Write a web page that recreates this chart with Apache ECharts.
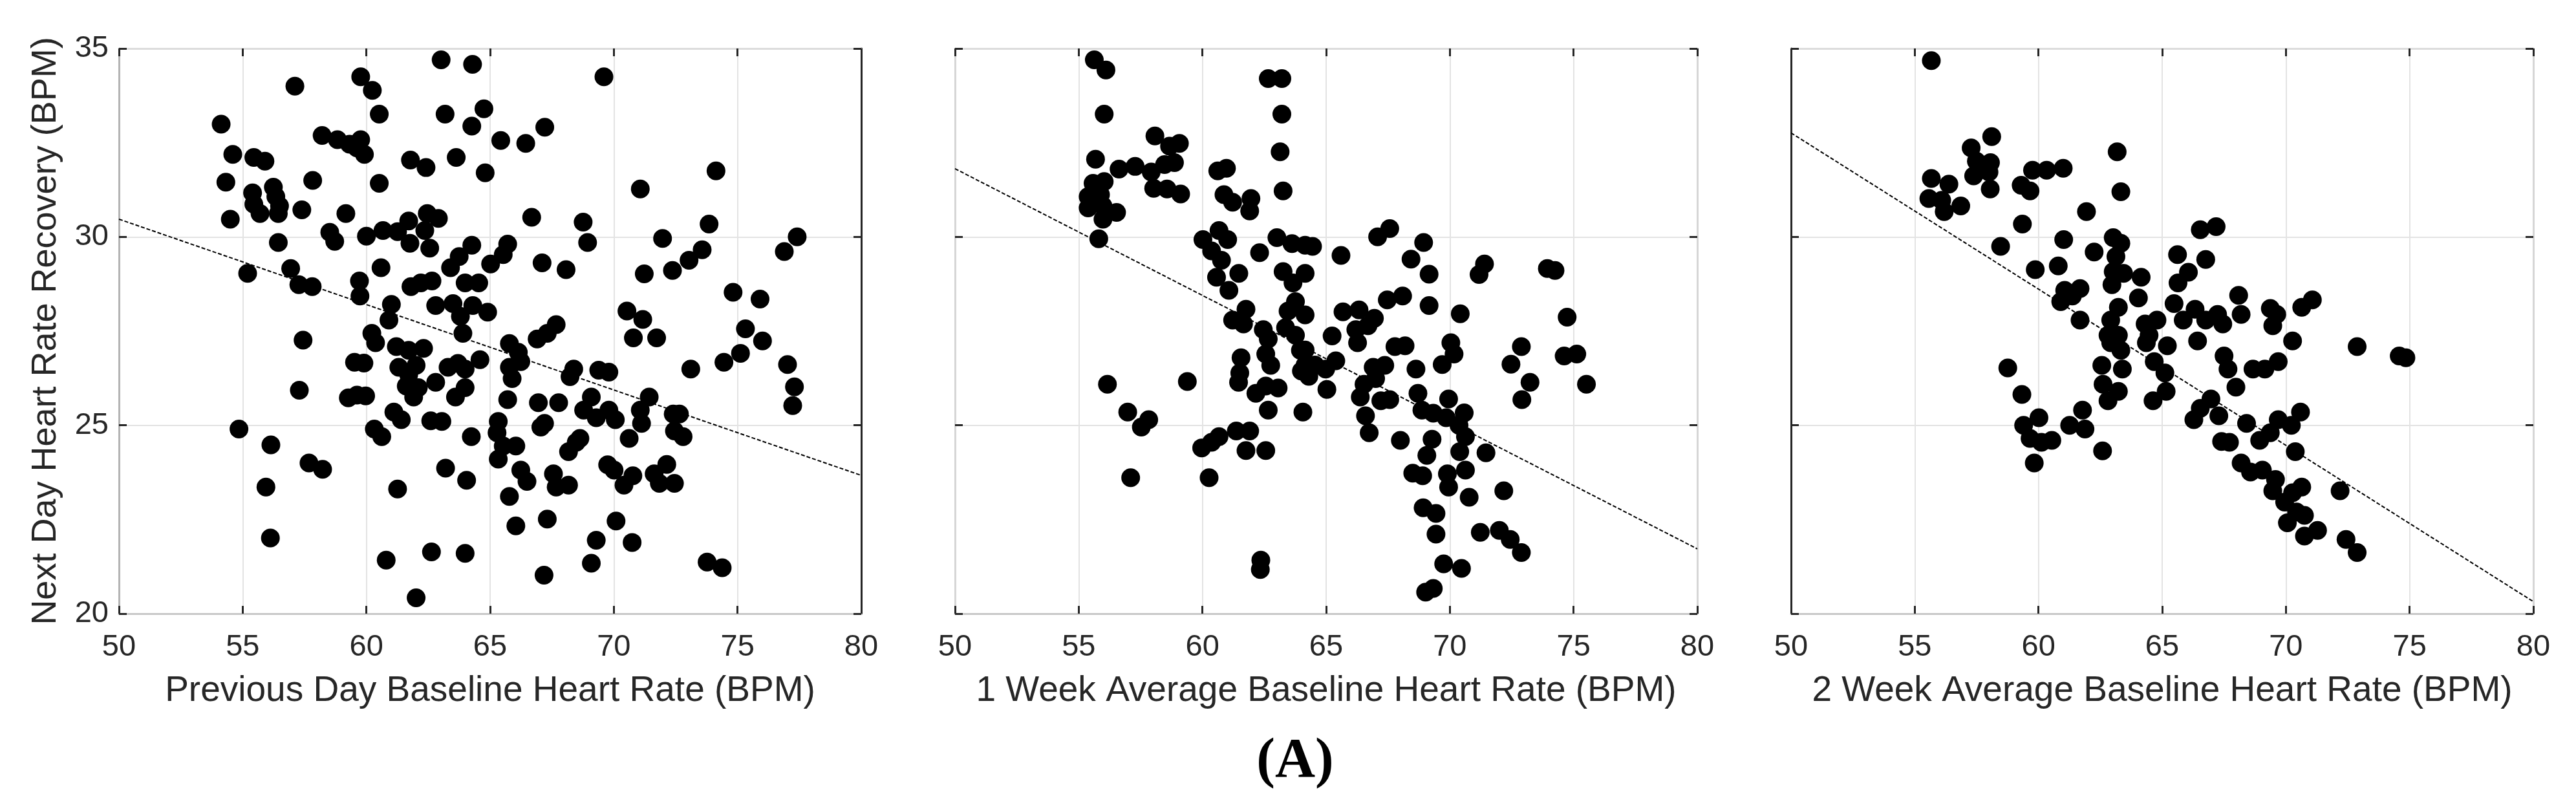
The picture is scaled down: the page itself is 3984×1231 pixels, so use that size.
<!DOCTYPE html>
<html>
<head>
<meta charset="utf-8">
<script src="https://cdn.jsdelivr.net/npm/echarts@6/dist/echarts.min.js"></script>
<style>
html,body{margin:0;padding:0;background:#fff;}
#chart{width:3984px;height:1231px;}
</style>
</head>
<body>
<div id="chart"></div>
<script>
// ---------- data ----------
const prevDayPoints = [
[57.11,34.0],[59.77,34.25],[60.24,33.89],[60.52,33.26],[63.02,34.7],[64.29,34.58],[64.75,33.4],[63.18,33.26],[64.26,32.94],[54.13,32.99],
[58.21,32.69],[58.83,32.58],[59.32,32.46],[59.77,32.58],[59.92,32.19],[59.62,32.36],[54.6,32.19],[55.45,32.11],[55.9,32.01],[61.78,32.04],
[62.41,31.84],[63.63,32.11],[64.8,31.7],[54.32,31.45],[57.83,31.5],[60.52,31.42],[55.4,31.17],[55.45,30.87],[55.7,30.62],[56.24,31.32],
[56.34,31.07],[56.49,30.82],[56.44,30.62],[54.5,30.47],[57.39,30.72],[59.17,30.62],[58.52,30.12],[58.72,29.88],[56.44,29.85],[60.0,30.02],
[60.67,30.17],[61.26,30.14],[61.71,30.42],[61.76,29.83],[62.46,30.62],[62.91,30.49],[62.36,30.17],[62.56,29.7],[64.26,29.78],
[55.2,29.03],[56.94,29.16],[57.27,28.73],[57.81,28.68],[59.72,28.83],[59.74,28.43],[60.59,29.18],[61.8,28.68],[62.2,28.78],[62.65,28.83],
[63.4,29.18],[63.75,29.48],[63.99,28.78],[64.54,28.78],
[61.01,28.21],[60.91,27.79],[60.22,27.44],[60.37,27.19],[62.8,28.18],[63.5,28.23],[64.3,28.18],[63.8,27.89],[63.9,27.44],[57.44,27.26],
[61.21,27.09],[61.71,26.99],[62.31,27.04],[59.52,26.67],[59.9,26.65],[61.31,26.54],[61.71,26.34],[62.01,26.59],[62.8,26.14],[63.3,26.54],
[63.7,26.64],[63.99,26.49],[64.59,26.74],
[57.29,25.93],[59.27,25.73],[59.62,25.8],[59.97,25.78],[61.61,26.04],[61.91,25.75],[62.1,26.0],[63.6,25.75],[63.99,26.0],[61.11,25.35],
[61.41,25.15],[62.6,25.12],[63.05,25.1],[54.85,24.9],[60.32,24.9],[60.62,24.7],[64.24,24.7],[56.14,24.48],
[57.68,24.0],[58.23,23.83],[55.94,23.36],[61.26,23.31],[63.2,23.86],[64.05,23.54],[56.12,22.01],[60.8,21.42],[62.63,21.64],[63.99,21.6],[62.01,20.42],
[65.43,32.56],[66.44,32.48],[67.21,32.91],[69.6,34.25],[74.13,31.75],[71.07,31.27],[66.68,30.52],[68.76,30.39],[68.94,29.85],[73.85,30.34],
[71.97,29.96],[77.41,30.0],[76.89,29.61],[73.57,29.66],[73.04,29.38],[72.37,29.11],[71.23,29.02],[65.71,29.81],[65.53,29.53],[65.02,29.28],
[67.1,29.31],[68.07,29.13],[74.82,28.53],[75.91,28.35],[64.9,28.0],[70.53,28.03],[71.17,27.81],[70.79,27.32],[71.73,27.32],[75.32,27.56],
[76.01,27.24],[75.12,26.91],[74.45,26.67],[77.02,26.61],[77.3,26.02],[77.23,25.52],[67.67,27.67],[67.31,27.44],[66.9,27.29],[65.78,27.17],
[66.14,26.94],[65.78,26.54],[65.89,26.24],[66.24,26.69],[68.38,26.49],[68.23,26.29],[69.39,26.46],[69.8,26.41],[73.11,26.49],[65.71,25.68],
[66.95,25.6],[67.77,25.6],[69.09,25.75],[68.78,25.4],[69.29,25.2],[69.8,25.4],[70.06,25.15],[71.43,25.75],[71.07,25.4],[71.12,25.05],
[72.4,25.3],[72.65,25.3],[72.45,24.85],[72.8,24.7],[65.33,25.1],[65.28,24.8],[67.05,24.95],[67.2,25.05],[70.62,24.65],[68.48,24.55],
[68.63,24.65],[68.17,24.3],[66.04,24.45],[65.53,24.45],[65.33,24.1],[66.24,23.81],[66.49,23.51],[67.56,23.71],[67.67,23.36],[68.17,23.41],
[69.75,23.95],[70.01,23.81],[70.41,23.41],[70.77,23.66],[71.63,23.71],[71.84,23.46],[72.14,23.96],[72.45,23.46],[65.78,23.11],[67.31,22.51],
[66.04,22.33],[70.09,22.46],[69.29,21.95],[70.74,21.89],[69.09,21.34],[67.18,21.02],[73.77,21.37],[74.38,21.22]
];

const week1Points = [
[55.63,34.7],[56.1,34.43],[56.03,33.26],[58.08,32.68],[59.07,32.48],[58.67,32.41],[55.68,32.06],[56.63,31.8],[57.28,31.87],[57.93,31.72],
[58.47,31.92],[58.87,31.97],[58.03,31.29],[58.57,31.27],[59.12,31.14],[55.58,31.42],[56.03,31.47],[55.38,31.07],[55.88,31.12],[55.38,30.77],
[55.98,30.82],[56.53,30.65],[55.98,30.47],[55.81,29.95],[60.62,31.75],[60.97,31.82],[60.87,31.12],[61.22,30.92],[61.96,31.02],[61.91,30.69],
[63.21,34.2],[62.66,34.2],[63.21,33.26],[63.14,32.26],[63.26,31.22],[60.02,29.93],[60.67,30.17],[61.02,29.93],[60.37,29.63],[60.77,29.38],
[61.47,29.03],[60.57,28.93],[61.07,28.58],[62.31,29.58],[63.01,29.98],[63.62,29.82],[63.26,29.08],[63.66,28.78],[63.76,28.28],[63.46,28.03],
[61.76,28.08],[61.22,27.79],[61.66,27.69],[62.46,27.54],[62.66,27.29],[63.36,27.59],[63.76,27.39],[62.56,26.89],[62.76,26.59],[61.56,26.79],
[61.51,26.39],[61.46,26.14],[63.96,26.99],[64.0,26.44],[62.16,25.85],[62.56,26.04],[63.06,25.99],[62.66,25.4],[64.06,25.35],[56.16,26.09],
[59.39,26.16],[56.98,25.35],[57.83,25.15],[57.53,24.95],[59.97,24.4],[60.37,24.55],[60.67,24.7],[61.37,24.85],[61.91,24.85],[61.76,24.33],
[62.56,24.33],[57.1,23.61],[60.27,23.61],[62.36,21.42],[62.34,21.17],
[64.15,29.78],[64.45,29.75],[64.15,29.03],[64.15,27.93],[64.15,27.0],[64.15,26.6],[64.3,26.3],
[65.6,29.51],[67.08,30.0],[67.57,30.22],[68.94,29.85],[68.43,29.41],[69.16,29.01],[71.4,29.28],[71.18,29.0],[73.94,29.16],[74.25,29.11],
[74.74,27.87],[65.68,28.01],[66.33,28.06],[66.95,27.84],[66.69,27.64],[66.2,27.54],[66.27,27.19],[67.47,28.33],[68.09,28.43],[69.16,28.18],
[70.42,27.96],[65.24,27.37],[67.78,27.09],[68.19,27.11],[70.04,27.19],[70.17,26.89],[69.69,26.61],[65.39,26.71],[64.98,26.49],[64.55,26.6],
[66.9,26.54],[67.37,26.59],[67.0,26.24],[66.53,26.09],[68.63,26.49],[72.47,26.62],[72.89,27.09],[74.62,26.84],[75.13,26.89],[73.24,26.14],
[75.52,26.09],[72.91,25.68],[65.03,25.95],[66.38,25.75],[67.21,25.65],[67.57,25.68],[68.71,25.85],[68.87,25.4],[69.95,25.7],[69.33,25.32],
[69.85,25.2],[70.58,25.33],[70.37,25.0],[70.63,24.7],[66.59,25.25],[66.74,24.8],[68.0,24.6],[69.28,24.63],[69.07,24.2],[70.4,24.3],
[71.46,24.27],[68.5,23.73],[68.9,23.66],[69.9,23.71],[69.95,23.36],[70.63,23.81],[70.78,23.09],[72.18,23.26],[68.92,22.81],[69.44,22.66],
[69.44,22.11],[71.23,22.16],[72.0,22.21],[72.44,21.97],[72.89,21.62],[69.75,21.32],[70.47,21.2],[69.02,20.57],[69.33,20.67]
];

const week2Points = [
[55.67,34.68],[58.11,32.66],[57.28,32.36],[63.18,32.26],[57.49,32.01],[58.06,31.97],[57.38,31.62],[58.0,31.72],[58.05,31.27],[55.67,31.55],
[56.38,31.4],[55.57,31.02],[56.09,30.97],[56.19,30.67],[56.86,30.82],[59.76,31.77],[60.33,31.77],[61.0,31.82],[59.3,31.37],[59.66,31.22],
[63.33,31.2],[61.94,30.67],[59.35,30.34],[61.02,29.93],[58.47,29.75],[62.25,29.6],[63.02,29.98],[63.33,29.83],[59.87,29.13],[60.8,29.23],
[63.13,29.48],[63.02,29.08],[63.44,29.03],[62.97,28.73],[61.06,28.58],[61.68,28.63],[60.9,28.28],[61.37,28.43],[61.68,27.79],[63.23,28.13],
[62.92,27.79],[62.81,27.39],[63.23,27.39],[62.92,27.19],[63.33,26.99],[62.56,26.59],[63.39,26.49],[62.61,26.09],[63.23,25.9],[62.81,25.65],
[58.76,26.52],[59.33,25.82],[59.4,25.0],[60.02,25.2],[59.66,24.65],[60.12,24.55],[60.54,24.6],[59.83,24.0],[61.26,25.0],[61.78,25.4],
[61.88,24.9],[62.59,24.32],
[66.54,30.19],[67.18,30.27],[65.62,29.53],[66.76,29.4],[66.06,29.06],[65.64,28.78],[64.15,28.93],[64.04,28.38],[65.48,28.23],[66.33,28.08],
[65.85,27.79],[66.43,27.24],[66.76,27.79],[67.24,27.94],[67.45,27.69],[68.09,28.45],[68.19,27.94],[69.37,28.1],[69.63,27.94],[69.47,27.64],
[70.64,28.13],[71.07,28.33],[70.27,27.24],[72.88,27.09],[74.58,26.84],[74.85,26.79],[64.31,27.69],[64.47,27.39],[64.36,27.19],[64.79,27.79],
[65.21,27.11],[64.68,26.69],[65.11,26.39],[67.5,26.84],[67.66,26.49],[67.98,26.01],[68.67,26.49],[69.15,26.49],[69.69,26.69],[65.16,25.9],
[64.63,25.65],[66.97,25.7],[66.54,25.45],[66.28,25.15],[67.29,25.25],[68.41,25.05],[69.69,25.15],[70.22,25.0],[70.59,25.35],[69.37,24.8],
[68.94,24.6],[67.4,24.57],[67.72,24.55],[70.38,24.3],[68.19,24.0],[68.57,23.76],[69.05,23.81],[69.58,23.56],[69.47,23.26],[69.95,22.96],
[70.64,23.36],[70.27,23.21],[72.19,23.26],[70.75,22.61],[70.06,22.41],[70.75,22.06],[71.28,22.21],[72.43,21.97],[72.88,21.62],[70.43,22.7]
];

const fitPrevDay = [[50, 30.47], [80, 23.67]];
const fitWeek1   = [[50, 31.81], [80, 21.72]];
const fitWeek2   = [[50, 32.76], [80, 20.32]];

const xTitles = [
  'Previous Day Baseline Heart Rate (BPM)',
  '1 Week Average Baseline Heart Rate (BPM)',
  '2 Week Average Baseline Heart Rate (BPM)'
];
const yTitle = 'Next Day Heart Rate Recovery (BPM)';
const panelLabel = '(A)';
const xRange = {min: 50, max: 80, interval: 5};
const yRange = {min: 20, max: 35, interval: 5};

// ---------- chart ----------
const panels = [prevDayPoints, week1Points, week2Points];
const fits = [fitPrevDay, fitWeek1, fitWeek2];
const gridLeft = [184, 1477, 2770];
const gridW = 1148;
const TXT = '#262626';
const FONT = 'Liberation Sans';
const leftAxisColor = ['#b4b4b4', '#d6d6d6', '#262626'];
const rightAxisColor = ['#262626', '#d6d6d6', '#d6d6d6'];

const grids = [], xAxes = [], yAxes = [], series = [];
for (let i = 0; i < 3; i++) {
  grids.push({left: gridLeft[i], width: gridW, top: 75, height: 874, show: false});
  const tick = {show: true, inside: true, length: 12, lineStyle: {color: TXT, width: 3}};
  xAxes.push({
    type: 'value', gridIndex: i, position: 'bottom', ...xRange,
    name: xTitles[i], nameLocation: 'middle', nameGap: 92,
    nameTextStyle: {fontFamily: FONT, fontSize: 55, color: TXT},
    axisLine: {show: true, onZero: false, lineStyle: {color: '#c8c8c8', width: 3}},
    axisTick: tick,
    axisLabel: {fontFamily: FONT, fontSize: 47, color: TXT, margin: 29},
    splitLine: {show: true, lineStyle: {color: '#e3e3e3', width: 2}}
  });
  xAxes.push({
    type: 'value', gridIndex: i, position: 'top', ...xRange,
    axisLine: {show: true, onZero: false, lineStyle: {color: '#dcdcdc', width: 3}},
    axisTick: tick, axisLabel: {show: false}, splitLine: {show: false}
  });
  yAxes.push({
    type: 'value', gridIndex: i, position: 'left', ...yRange,
    name: i === 0 ? yTitle : '', nameLocation: 'middle', nameGap: 86,
    nameTextStyle: {fontFamily: FONT, fontSize: 54, color: TXT},
    axisLine: {show: true, onZero: false, lineStyle: {color: leftAxisColor[i], width: 3}},
    axisTick: tick,
    axisLabel: {show: i === 0, fontFamily: FONT, fontSize: 47, color: TXT, margin: 16},
    splitLine: {show: true, lineStyle: {color: '#e3e3e3', width: 2}}
  });
  yAxes.push({
    type: 'value', gridIndex: i, position: 'right', ...yRange,
    axisLine: {show: true, onZero: false, lineStyle: {color: rightAxisColor[i], width: 3}},
    axisTick: tick, axisLabel: {show: false}, splitLine: {show: false}
  });
  series.push({
    type: 'line', xAxisIndex: 2 * i, yAxisIndex: 2 * i, data: fits[i],
    symbol: 'none', z: 2, silent: true,
    lineStyle: {color: '#000', width: 2, type: [6, 3]}
  });
  series.push({
    type: 'scatter', xAxisIndex: 2 * i, yAxisIndex: 2 * i, data: panels[i],
    symbol: 'circle', symbolSize: 29, z: 3,
    itemStyle: {color: '#000', opacity: 1}
  });
}

const chart = echarts.init(document.getElementById('chart'), null, {renderer: 'canvas'});
chart.setOption({
  animation: false,
  backgroundColor: '#ffffff',
  title: {
    text: panelLabel, left: 1998, top: 1131, textAlign: 'center',
    textStyle: {fontFamily: 'Liberation Serif', fontWeight: 'bold', fontSize: 86, color: '#000'}
  },
  grid: grids, xAxis: xAxes, yAxis: yAxes, series: series
});
</script>
</body>
</html>
